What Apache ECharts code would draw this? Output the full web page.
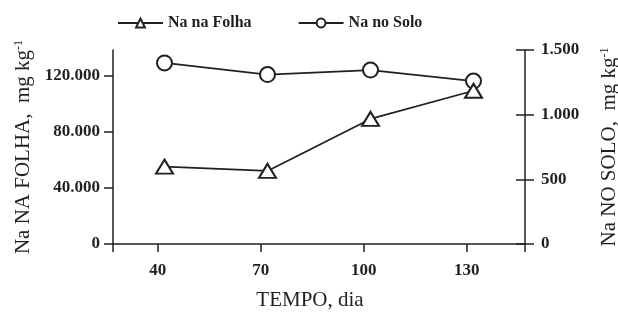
<!DOCTYPE html>
<html>
<head>
<meta charset="utf-8">
<script src="https://cdn.jsdelivr.net/npm/echarts@6/dist/echarts.min.js"></script>
<style>
  html, body { margin: 0; padding: 0; background: #fff; }
  #chart { width: 618px; height: 313px; }
</style>
</head>
<body>
<div id="chart"></div>
<script>
// dados
const dias = [42, 72, 102, 132]
const naFolha = [55000, 52000, 89000, 109000]
const naSolo = [1400, 1310, 1345, 1260]
const xTicks = [40, 70, 100, 130]
const folhaTicks = [0, 40000, 80000, 120000]
const soloTicks = [0, 500, 1000, 1500]

const ink = '#231f20'
const serif = '"Liberation Serif", "DejaVu Serif", serif'

// 120000 -> 120.000
const fmt = v => String(v).replace(/\B(?=(\d{3})+(?!\d))/g, '.')

const chart = echarts.init(document.getElementById('chart'))

const nameRich = {
  sup: { fontSize: 12, fontFamily: serif, color: ink, verticalAlign: 'top', lineHeight: 14 }
}

const option = {
  animation: false,
  backgroundColor: '#fff',
  legend: {
    left: 112,
    top: 10,
    itemWidth: 45,
    itemHeight: 11,
    itemGap: 46,
    data: ['Na na Folha', 'Na no Solo'],
    textStyle: { fontFamily: serif, fontSize: 16, fontWeight: 'bold', color: ink }
  },
  grid: { left: 113, right: 93, top: 50, bottom: 69, outerBoundsMode: 'none', containLabel: false },
  xAxis: {
    type: 'value',
    min: 27,
    max: 147,
    name: 'TEMPO, dia',
    nameLocation: 'middle',
    nameGap: 46,
    nameTextStyle: { fontFamily: serif, fontSize: 21, color: ink, padding: [0, 18, 0, 0] },
    axisLine: { lineStyle: { color: ink, width: 1.5 } },
    axisTick: { length: 8, lineStyle: { color: ink, width: 1.5 }, customValues: [27].concat(xTicks, [147]) },
    axisLabel: { customValues: xTicks, margin: 18, fontFamily: serif, fontSize: 17, fontWeight: 'bold', color: ink },
    splitLine: { show: false }
  },
  yAxis: [
    {
      type: 'value',
      position: 'left',
      min: 0,
      max: 138000,
      name: 'Na NA FOLHA,  mg kg{sup|-1}',
      nameLocation: 'middle',
      nameGap: 78,
      nameTextStyle: { fontFamily: serif, fontSize: 21, color: ink, rich: nameRich },
      axisLine: { show: true, lineStyle: { color: ink, width: 1.5 } },
      axisTick: { length: 9, lineStyle: { color: ink, width: 1.5 }, customValues: folhaTicks },
      axisLabel: { customValues: folhaTicks, margin: 13, formatter: fmt, fontFamily: serif, fontSize: 17, fontWeight: 'bold', color: ink },
      splitLine: { show: false }
    },
    {
      type: 'value',
      position: 'right',
      min: 0,
      max: 1500,
      name: 'Na NO SOLO,  mg kg{sup|-1}',
      nameLocation: 'middle',
      nameRotate: 90,
      nameGap: 74,
      nameTextStyle: { fontFamily: serif, fontSize: 21, color: ink, rich: nameRich },
      axisLine: { show: true, lineStyle: { color: ink, width: 1.5 } },
      axisTick: { length: 9, lineStyle: { color: ink, width: 1.5 }, customValues: soloTicks },
      axisLabel: { customValues: soloTicks, margin: 16, formatter: fmt, fontFamily: serif, fontSize: 17, fontWeight: 'bold', color: ink },
      splitLine: { show: false }
    },
    {
      // só para os traços internos do eixo direito
      type: 'value',
      position: 'right',
      offset: 0,
      min: 0,
      max: 1500,
      axisLine: { show: false },
      axisTick: { show: true, inside: true, length: 9, lineStyle: { color: ink, width: 1.5 }, customValues: soloTicks },
      axisLabel: { show: false },
      splitLine: { show: false }
    }
  ],
  series: [
    {
      name: 'Na no Solo',
      type: 'line',
      yAxisIndex: 1,
      data: dias.map((d, i) => [d, naSolo[i]]),
      symbol: 'emptyCircle',
      symbolSize: 15,
      lineStyle: { color: ink, width: 1.7 },
      itemStyle: { color: ink, borderColor: ink, borderWidth: 1.8 },
      z: 2
    },
    {
      name: 'Na na Folha',
      type: 'line',
      yAxisIndex: 0,
      data: dias.map((d, i) => [d, naFolha[i]]),
      symbol: 'emptyTriangle',
      symbolSize: [17, 14],
      lineStyle: { color: ink, width: 1.7 },
      itemStyle: { color: ink, borderColor: ink, borderWidth: 1.8 },
      z: 3
    }
  ]
}

chart.setOption(option)
</script>
</body>
</html>
